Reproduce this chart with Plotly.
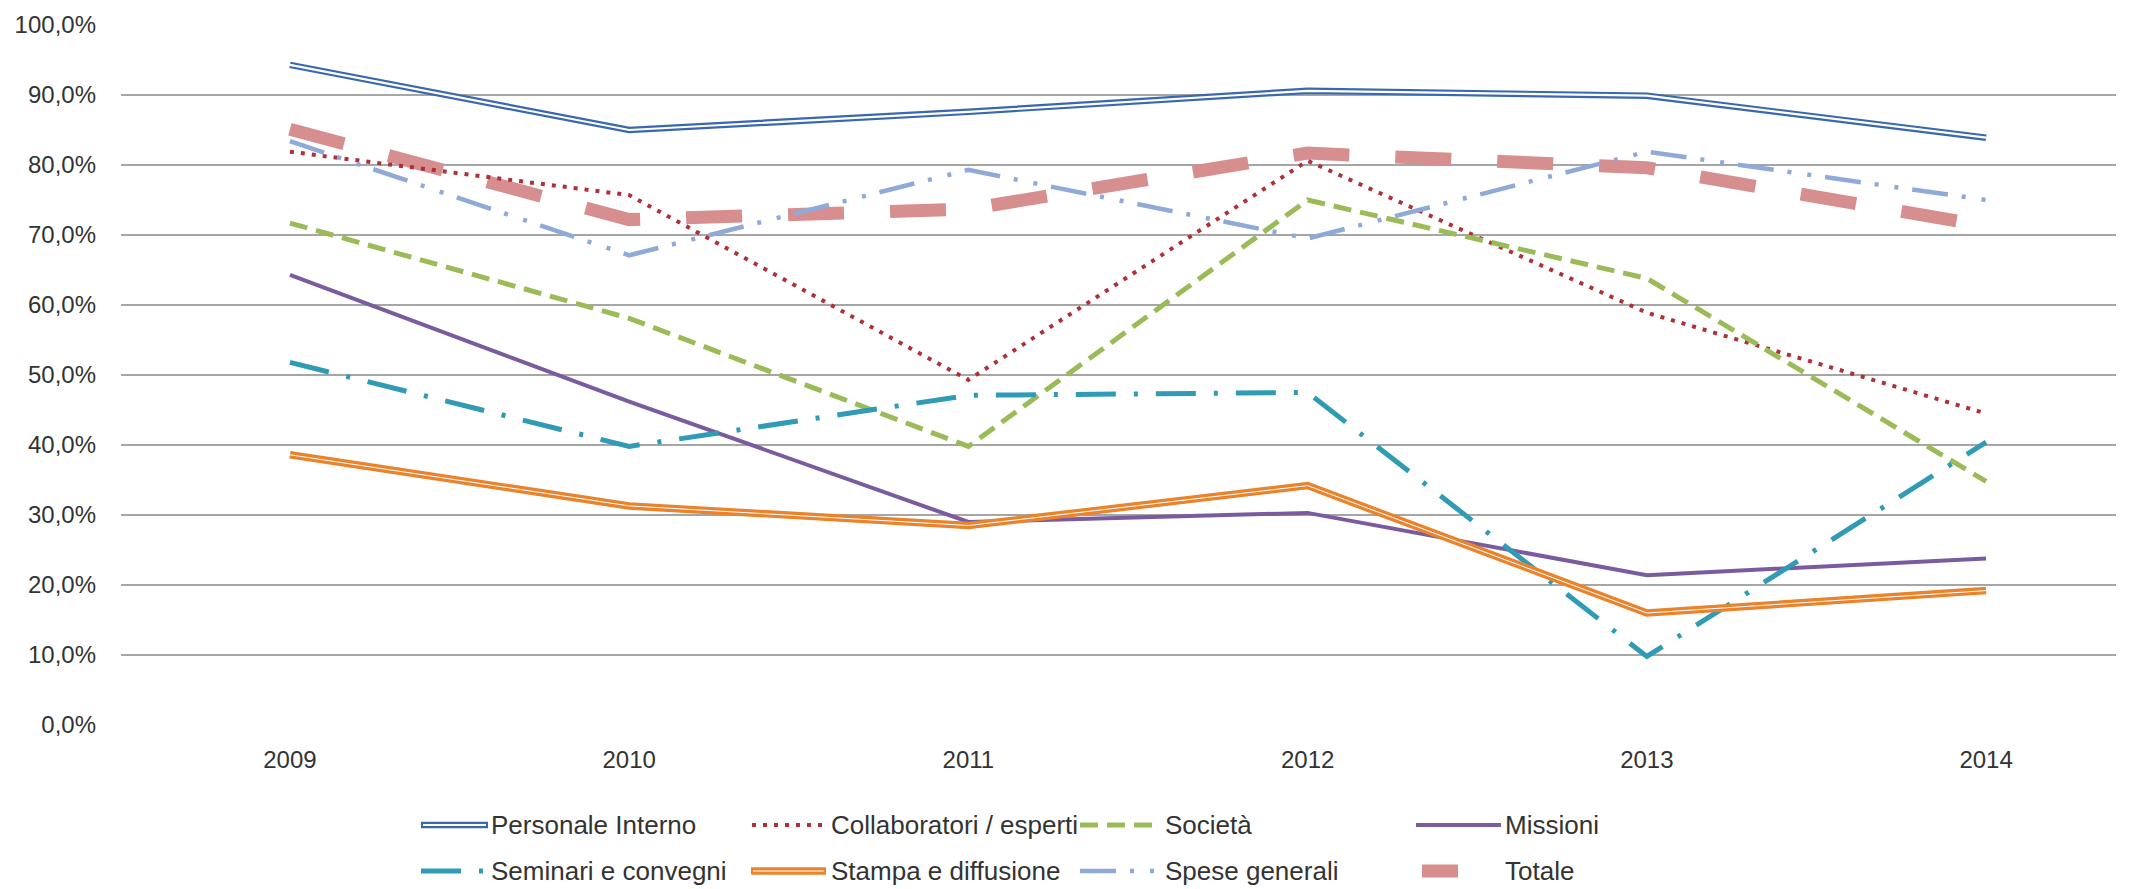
import plotly.graph_objects as go

# ---- data (percent) ----
years = ["2009", "2010", "2011", "2012", "2013", "2014"]
personale_interno = [94.3, 85.0, 87.6, 90.6, 89.9, 83.9]
collaboratori_esperti = [81.9, 75.7, 49.3, 80.6, 58.9, 44.5]
societa = [71.7, 58.1, 39.8, 75.0, 63.8, 34.8]
missioni = [64.3, 46.2, 29.0, 30.3, 21.4, 23.8]
seminari_convegni = [51.8, 39.8, 47.1, 47.5, 9.8, 40.4]
stampa_diffusione = [38.6, 31.3, 28.5, 34.2, 16.0, 19.2]
spese_generali = [83.4, 67.1, 79.3, 69.5, 81.9, 75.0]
totale = [85.1, 72.2, 73.7, 81.7, 79.6, 71.3]
y_ticks = [0, 10, 20, 30, 40, 50, 60, 70, 80, 90, 100]
y_tick_labels = ["0,0%", "10,0%", "20,0%", "30,0%", "40,0%", "50,0%",
                 "60,0%", "70,0%", "80,0%", "90,0%", "100,0%"]

FONT = "Liberation Sans, Arial, sans-serif"
TXT = "#333333"

C_PERS = "#3A68AE"
C_COLL = "#B0303A"
C_SOC = "#9BBB59"
C_MIS = "#7A5BA0"
C_SEM = "#2F9BB5"
C_STA = "#E9832C"
C_SPE = "#8FAAD8"
C_TOT = "#D68F8E"

fig = go.Figure()

def add(y, color, width, dash="solid", name=None):
    fig.add_trace(go.Scatter(x=years, y=y, mode="lines", name=name,
                             line=dict(color=color, width=width, dash=dash),
                             showlegend=False, hoverinfo="skip" if name is None else None))

# Totale at the bottom
add(totale, C_TOT, 13, "56px,46px", "Totale")
# Personale interno (double line)
add(personale_interno, C_PERS, 6.5, "solid", "Personale Interno")
add(personale_interno, "white", 2.2)
add(collaboratori_esperti, C_COLL, 4, "4px,7px", "Collaboratori / esperti")
add(societa, C_SOC, 5, "18px,9px", "Società")
add(missioni, C_MIS, 4, "solid", "Missioni")
add(seminari_convegni, C_SEM, 5, "40px,18px,4px,18px", "Seminari e convegni")
add(stampa_diffusione, C_STA, 7.5, "solid", "Stampa e diffusione")
add(stampa_diffusione, "white", 1.0)
add(spese_generali, C_SPE, 4.5, "36px,14px,4px,16px,4px,14px", "Spese generali")

# ---- geometry in page pixels (page has an 8px body margin) ----
OFF = 8
W, H = 2150, 889
L, R, T, B = 121, 2116, 25, 725

def xp(px):
    return (px - L) / (R - L)

def yp(py):
    return (B - py) / (B - T)

# ---- custom legend ----
shapes = []
annotations = []
LEG_SIZE = 26

def leg_line(x0, x1, y, color, width, dash="solid"):
    shapes.append(dict(type="line", xref="paper", yref="paper",
                       x0=xp(x0), x1=xp(x1), y0=yp(y), y1=yp(y),
                       line=dict(color=color, width=width, dash=dash)))

def leg_text(x, y, text):
    annotations.append(dict(xref="paper", yref="paper", x=xp(x), y=yp(y),
                            text=text, showarrow=False, xanchor="left", yanchor="middle",
                            xshift=-2, borderpad=0,
                            font=dict(family=FONT, size=LEG_SIZE, color=TXT)))

r1, r2 = 825, 871
leg_line(421, 488, r1, C_PERS, 6.5)
leg_line(423, 486, r1, "white", 2.2)
leg_text(492, r1, "Personale Interno")
leg_line(752, 826, r1, C_COLL, 4, "4px,7px")
leg_text(832, r1, "Collaboratori / esperti")
leg_line(1080, 1160, r1, C_SOC, 5, "18px,9px")
leg_text(1166, r1, "Società")
leg_line(1416, 1501, r1, C_MIS, 4)
leg_text(1506, r1, "Missioni")

leg_line(421, 492, r2, C_SEM, 5, "40px,18px,4px,18px")
leg_text(492, r2, "Seminari e convegni")
leg_line(751, 826, r2, C_STA, 7.5)
leg_line(753, 824, r2, "white", 1.0)
leg_text(832, r2, "Stampa e diffusione")
leg_line(1080, 1160, r2, C_SPE, 4.5, "36px,14px,4px,16px,4px,14px")
leg_text(1166, r2, "Spese generali")
leg_line(1422, 1458, r2, C_TOT, 13)
leg_text(1506, r2, "Totale")

fig.update_layout(
    width=W - OFF, height=H - OFF,
    margin=dict(l=L - OFF, r=W - R, t=T - OFF, b=H - B, pad=0, autoexpand=False),
    paper_bgcolor="white", plot_bgcolor="white",
    showlegend=False,
    font=dict(family=FONT, size=24, color=TXT),
    shapes=shapes,
    annotations=annotations,
)
fig.update_xaxes(type="category", range=[-0.498, 5.383], showgrid=False, automargin=False,
                 showline=False, zeroline=False, ticks="", ticklabelstandoff=18,
                 tickfont=dict(family=FONT, size=24, color=TXT))
fig.update_yaxes(range=[0, 100], tickvals=y_ticks, ticktext=y_tick_labels, automargin=False,
                 showgrid=True, gridcolor="#A6A6A6", gridwidth=1.6,
                 zeroline=False, showline=False, ticks="", ticklabelstandoff=24,
                 tickfont=dict(family=FONT, size=24, color=TXT))

fig.write_html("out.html")
